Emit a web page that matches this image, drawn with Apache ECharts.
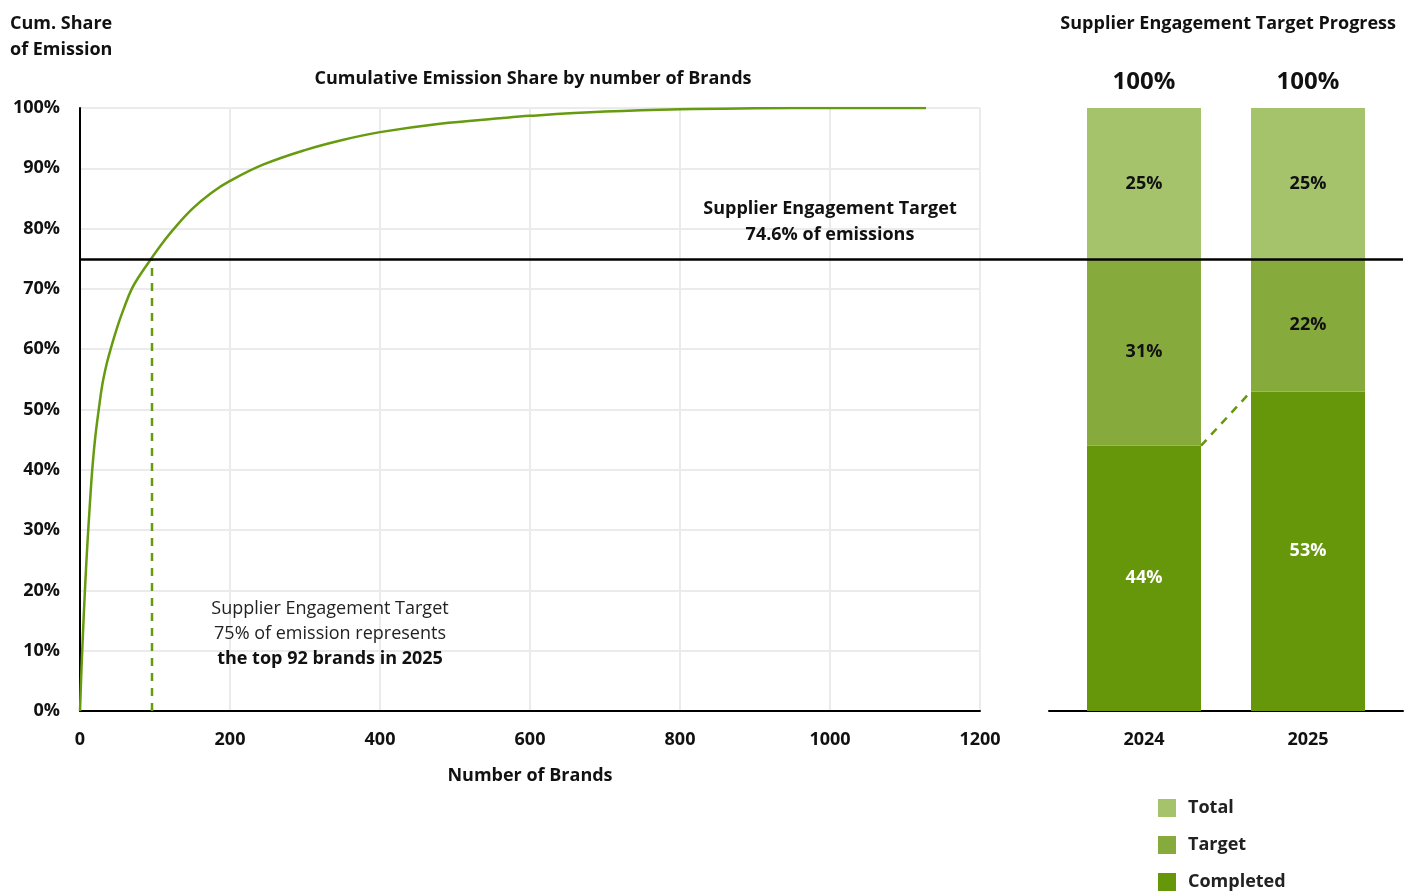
<!DOCTYPE html>
<html>
<head>
<meta charset="utf-8">
<script src="https://cdn.jsdelivr.net/npm/echarts@6/dist/echarts.min.js"></script>
<style>
html,body{margin:0;padding:0;background:#fff;}
#chart{width:1412px;height:894px;}
</style>
</head>
<body>
<div id="chart"></div>
<script>
// ---- Data ----
const curveBrands = [0, 2, 4, 6, 8, 10, 13, 16, 20, 25, 30, 36, 42, 50, 58, 69, 80, 96, 110, 124, 150, 175, 200, 244, 302, 350, 400, 480, 560, 600, 700, 800, 900, 1000, 1128];
const curveShare  = [0, 7, 13, 18.5, 23.5, 28, 34, 39.5, 45, 50, 54.3, 57.8, 60.5, 63.8, 66.6, 70, 72.3, 75.2, 77.6, 79.8, 83.3, 85.9, 87.9, 90.6, 93.1, 94.7, 96.0, 97.4, 98.3, 98.7, 99.4, 99.8, 99.95, 100, 100];
const targetBrands = 96;
const targetShare = 75;

const years = ['2024', '2025'];
const completed = [44, 53];
const target = [31, 22];
const total = [25, 25];

const xTicks = [0, 1200, 200];
const yTicks = [0, 100, 10];

// ---- Style ----
const FONT = '"Open Sans", Lato, sans-serif';
const INK = '#111';
const C_TOTAL = '#a5c36b';
const C_TARGET = '#86aa3c';
const C_DONE = '#669609';
const C_LINE = '#669a0f';
const GRID_C = '#ebebeb';
const FS = 18;
const FW = 'bold';

const barWidth = 114;
const barGridLeft = 1062, barGridWidth = 328;
const halfFrac = (barWidth / 2) / (barGridWidth / years.length);

const curveData = curveBrands.map((b, i) => [b, curveShare[i]]);
const sums = years.map((_, i) => completed[i] + target[i] + total[i]);

const chart = echarts.init(document.getElementById('chart'), null, {renderer: 'canvas'});

const boldLabel = {color: INK, fontFamily: FONT, fontWeight: FW, fontSize: FS};

const option = {
  backgroundColor: '#fff',
  animation: false,
  textStyle: {fontFamily: FONT},
  grid: [
    {left: 80, right: 432, top: 108, bottom: 183},
    {left: barGridLeft, width: barGridWidth, top: 108, bottom: 183},
    {left: 1049, right: 9, top: 108, bottom: 183},
    {left: 80, right: 9, top: 108, bottom: 183}
  ],
  xAxis: [
    {
      gridIndex: 0, type: 'value', min: xTicks[0], max: xTicks[1], interval: xTicks[2],
      axisLine: {show: true, lineStyle: {color: '#000', width: 2}},
      axisTick: {show: false},
      axisLabel: Object.assign({margin: 20, formatter: v => String(v)}, boldLabel),
      splitLine: {show: true, lineStyle: {color: GRID_C, width: 2}},
      name: 'Number of Brands', nameLocation: 'middle', nameGap: 56,
      nameTextStyle: boldLabel
    },
    {
      gridIndex: 1, type: 'category', data: years,
      axisLine: {show: false}, axisTick: {show: false},
      axisLabel: Object.assign({margin: 20}, boldLabel)
    },
    {
      gridIndex: 1, type: 'value', min: -0.5, max: 1.5, show: false
    },
    {
      gridIndex: 2, type: 'value', min: 0, max: 1,
      axisLine: {show: true, onZero: false, lineStyle: {color: '#000', width: 2}},
      axisTick: {show: false}, axisLabel: {show: false}, splitLine: {show: false}
    },
    {
      gridIndex: 3, type: 'value', min: 0, max: 1, show: false
    }
  ],
  yAxis: [
    {
      gridIndex: 0, type: 'value', min: yTicks[0], max: yTicks[1], interval: yTicks[2],
      axisLine: {show: true, lineStyle: {color: '#000', width: 2}},
      axisTick: {show: false},
      axisLabel: Object.assign({margin: 20, formatter: '{value}%'}, boldLabel),
      splitLine: {show: true, lineStyle: {color: GRID_C, width: 2}}
    },
    {gridIndex: 1, type: 'value', min: 0, max: 100, show: false},
    {gridIndex: 2, type: 'value', min: 0, max: 100, show: false},
    {gridIndex: 3, type: 'value', min: 0, max: 100, show: false}
  ],
  legend: {
    orient: 'vertical', left: 1158, top: 799, padding: 0,
    itemWidth: 18, itemHeight: 18, itemGap: 19,
    icon: 'rect',
    data: ['Total', 'Target', 'Completed'],
    textStyle: {color: '#222', fontFamily: FONT, fontWeight: FW, fontSize: FS, lineHeight: 18, padding: [0, 0, 0, 7]}
  },
  series: [
    {
      type: 'line', xAxisIndex: 0, yAxisIndex: 0, data: curveData,
      smooth: 0.4, showSymbol: false, symbol: 'none',
      lineStyle: {color: C_LINE, width: 2.5}, z: 3
    },
    {
      type: 'line', xAxisIndex: 0, yAxisIndex: 0,
      data: [[targetBrands, 0], [targetBrands, targetShare]],
      showSymbol: false, symbol: 'none',
      lineStyle: {color: C_LINE, width: 2.5, type: [8, 7]}, z: 3
    },
    {
      name: 'Completed', type: 'bar', stack: 's', xAxisIndex: 1, yAxisIndex: 1,
      data: completed, barWidth: barWidth, itemStyle: {color: C_DONE},
      label: {show: true, position: 'inside', formatter: '{c}%', color: '#fff', fontFamily: FONT, fontWeight: FW, fontSize: FS}
    },
    {
      name: 'Target', type: 'bar', stack: 's', xAxisIndex: 1, yAxisIndex: 1,
      data: target, barWidth: barWidth, itemStyle: {color: C_TARGET},
      label: {show: true, position: 'inside', formatter: '{c}%', color: INK, fontFamily: FONT, fontWeight: FW, fontSize: FS}
    },
    {
      name: 'Total', type: 'bar', stack: 's', xAxisIndex: 1, yAxisIndex: 1,
      data: total, barWidth: barWidth, itemStyle: {color: C_TOTAL},
      label: {show: true, position: 'inside', formatter: '{c}%', color: INK, fontFamily: FONT, fontWeight: FW, fontSize: FS}
    },
    {
      name: 'sum', type: 'bar', stack: 's', xAxisIndex: 1, yAxisIndex: 1,
      data: years.map(() => 0), barWidth: barWidth, itemStyle: {color: 'transparent'},
      label: {show: true, position: 'top', distance: 14, formatter: p => sums[p.dataIndex] + '%',
        color: INK, fontFamily: FONT, fontWeight: 'bold', fontSize: 24}
    },
    {
      type: 'line', xAxisIndex: 2, yAxisIndex: 1,
      data: [[halfFrac, completed[0]], [1 - halfFrac, completed[1]]],
      showSymbol: false, symbol: 'none',
      lineStyle: {color: C_DONE, width: 2.5, type: [8, 7]}, z: 4
    },
    {
      type: 'line', xAxisIndex: 3, yAxisIndex: 2, data: [], showSymbol: false
    },
    {
      type: 'line', xAxisIndex: 4, yAxisIndex: 3, data: [], showSymbol: false, z: 10,
      markLine: {
        silent: true, symbol: ['none', 'none'], label: {show: false},
        lineStyle: {color: '#000', width: 2.5, type: 'solid'},
        data: [{yAxis: targetShare}]
      }
    }
  ],
  graphic: [
    {type: 'text', z: 100, left: 10, top: 11, style: {text: 'Cum. Share\nof Emission', fill: INK, font: FW + ' ' + FS + 'px ' + FONT, lineHeight: 26}},
    {type: 'text', z: 100, x: 533, y: 79, style: {text: 'Cumulative Emission Share by number of Brands', fill: INK, font: FW + ' ' + FS + 'px ' + FONT, align: 'center', verticalAlign: 'middle'}},
    {type: 'text', z: 100, x: 1396, y: 24, style: {text: 'Supplier Engagement Target Progress', fill: INK, font: FW + ' ' + FS + 'px ' + FONT, align: 'right', verticalAlign: 'middle'}},
    {type: 'text', z: 100, x: 830, y: 222, style: {text: 'Supplier Engagement Target\n74.6% of emissions', fill: INK, font: FW + ' ' + FS + 'px ' + FONT, align: 'center', verticalAlign: 'middle', lineHeight: 26}},
    {type: 'text', z: 100, x: 330, y: 634, style: {
      text: '{r|Supplier Engagement Target}\n{r|75% of emission represents}\n{b|the top 92 brands in 2025}',
      align: 'center', verticalAlign: 'middle',
      rich: {
        r: {fill: '#222', fontFamily: FONT, fontSize: FS, fontWeight: 'normal', lineHeight: 25, align: 'center'},
        b: {fill: INK, fontFamily: FONT, fontSize: FS, fontWeight: FW, lineHeight: 25, align: 'center'}
      }
    }}
  ]
};

chart.setOption(option);
</script>
</body>
</html>
